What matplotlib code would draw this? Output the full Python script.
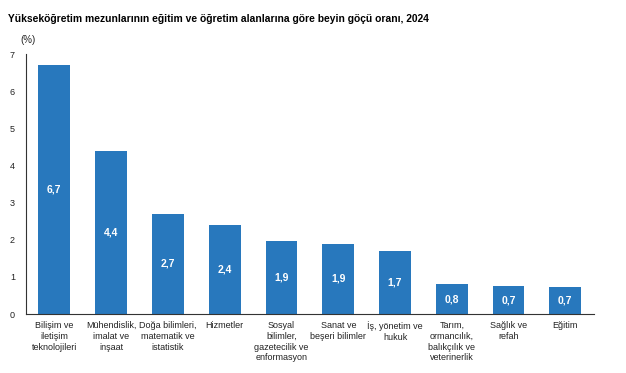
import matplotlib.pyplot as plt

plt.rcParams['font.family'] = ['Liberation Sans', 'DejaVu Sans']

categories = [
    'Bilişim ve\niletişim\nteknolojileri',
    'Mühendislik,\nimalat ve\ninşaat',
    'Doğa bilimleri,\nmatematik ve\nistatistik',
    'Hizmetler',
    'Sosyal\nbilimler,\ngazetecilik ve\nenformasyon',
    'Sanat ve\nbeşeri bilimler',
    'İş, yönetim ve\nhukuk',
    'Tarım,\normancılık,\nbalıkçılık ve\nveterinerlik',
    'Sağlık ve\nrefah',
    'Eğitim',
]
values = [6.7, 4.4, 2.7, 2.4, 1.97, 1.89, 1.7, 0.81, 0.75, 0.73]
value_labels = ['6,7', '4,4', '2,7', '2,4', '1,9', '1,9', '1,7', '0,8', '0,7', '0,7']

fig = plt.figure(figsize=(6.26, 3.73), dpi=100)
ax = fig.add_axes([0.0415, 0.158, 0.907, 0.697])

x = range(len(categories))
bars = ax.bar(x, values, width=0.56, color='#2878BD')

for b, lab in zip(bars, value_labels):
    ax.text(b.get_x() + b.get_width() / 2, b.get_height() / 2, lab,
            ha='center', va='center', color='white', fontsize=7.5, fontweight='bold')

ax.set_xlim(-0.5, len(categories) - 0.5)
ax.set_ylim(0, 7)
ax.set_yticks(range(8))
ax.set_xticks(list(x))
ax.set_xticklabels(categories, fontsize=6.5, linespacing=1.25, va='top')
ax.tick_params(axis='both', length=0, labelsize=6.5, colors='#222222')
ax.tick_params(axis='y', pad=8)
ax.tick_params(axis='x', pad=5)

for s in ['top', 'right']:
    ax.spines[s].set_visible(False)
for s in ['left', 'bottom']:
    ax.spines[s].set_color('#333333')
    ax.spines[s].set_linewidth(0.8)

fig.text(0.013, 0.948, 'Yükseköğretim mezunlarının eğitim ve öğretim alanlarına göre beyin göçü oranı, 2024',
         fontsize=7.4, fontweight='bold', ha='left', va='center')
fig.text(0.032, 0.893, '(%)', fontsize=7, ha='left', va='center', color='#222222')

fig.savefig('out.png', dpi=100)
